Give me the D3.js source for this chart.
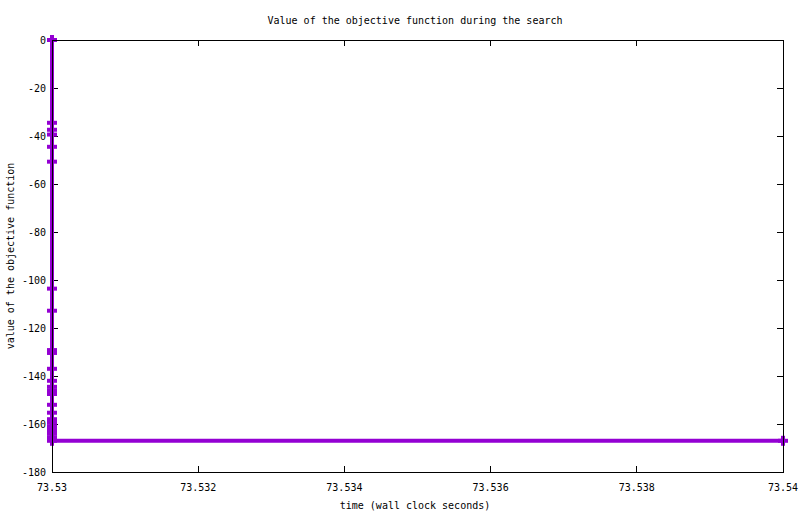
<!DOCTYPE html>
<html>
<head>
<meta charset="utf-8">
<script src="https://cdn.jsdelivr.net/npm/d3@7"></script>
<style>
	body { margin: 0; background: #fff; }
	text { font-family: "DejaVu Sans Mono", monospace; font-size: 10px; fill: #000; }
</style>
</head>
<body>
<svg id="chart" width="800" height="514"></svg>
<script>
// search trace: wall clock time vs objective value
const times = [
	73.53, 73.53, 73.53, 73.53, 73.53, 73.53, 73.53, 73.53, 73.53, 73.53,
	73.53, 73.53, 73.53, 73.53, 73.53, 73.53, 73.53, 73.53, 73.53, 73.53,
	73.53, 73.53, 73.53, 73.53, 73.54,
];
const values = [
	0, -34.5, -37.4, -39.4, -44.5, -50.7, -103.6, -112.8, -129.2, -130.4,
	-137, -142, -144.5, -146, -147.5, -152, -155.3, -158, -159.5, -161,
	-162.5, -164, -165.5, -167, -167,
];
const xTicks = [73.53, 73.532, 73.534, 73.536, 73.538, 73.54];
const yTicks = [0, -20, -40, -60, -80, -100, -120, -140, -160, -180];

const margin = { top: 40, right: 17, bottom: 42, left: 52 };
const width = 800, height = 514;
const color = '#9400d3';

let svg = d3.select('#chart');

let x = d3.scaleLinear().domain([73.53, 73.54]).range([margin.left, width - margin.right]),
	y = d3.scaleLinear().domain([-180, 0]).range([height - margin.bottom, margin.top]);

let points = times.map((t, i) => ({ t: t, v: values[i] }));

// tick marks, inward, mirrored
const tickLen = 6;
let grid = svg.append('g').attr('stroke', '#000').attr('stroke-width', 1).attr('shape-rendering', 'crispEdges');
yTicks.forEach(v => {
	grid.append('line').attr('x1', x.range()[0]).attr('x2', x.range()[0] + tickLen).attr('y1', y(v)).attr('y2', y(v));
	grid.append('line').attr('x1', x.range()[1]).attr('x2', x.range()[1] - tickLen).attr('y1', y(v)).attr('y2', y(v));
});
xTicks.forEach(t => {
	grid.append('line').attr('x1', x(t)).attr('x2', x(t)).attr('y1', y.range()[0]).attr('y2', y.range()[0] - tickLen);
	grid.append('line').attr('x1', x(t)).attr('x2', x(t)).attr('y1', y.range()[1]).attr('y2', y.range()[1] + tickLen);
});

// tick labels
svg.append('g').selectAll('text').data(yTicks).enter().append('text')
	.attr('x', margin.left - 6).attr('y', d => y(d)).attr('dy', '0.35em')
	.attr('text-anchor', 'end').text(d => d);
svg.append('g').selectAll('text').data(xTicks).enter().append('text')
	.attr('x', d => x(d)).attr('y', height - margin.bottom + 15).attr('dy', '0.35em')
	.attr('text-anchor', 'middle').text(d => d3.format('')(+d.toFixed(3)));

// line
let line = d3.line().x(d => x(d.t)).y(d => y(d.v));
svg.append('path').datum(points)
	.attr('d', line).attr('fill', 'none')
	.attr('stroke', color).attr('stroke-width', 4);

// '+' markers
const ps = 5;
let marks = svg.append('g').attr('stroke', color).attr('stroke-width', 4);
points.forEach(d => {
	let px = x(d.t), py = y(d.v);
	marks.append('line').attr('x1', px - ps).attr('x2', px + ps).attr('y1', py).attr('y2', py);
	marks.append('line').attr('x1', px).attr('x2', px).attr('y1', py - ps).attr('y2', py + ps);
});

// border in front
svg.append('rect')
	.attr('x', x.range()[0]).attr('y', y.range()[1])
	.attr('width', x.range()[1] - x.range()[0]).attr('height', y.range()[0] - y.range()[1])
	.attr('fill', 'none').attr('stroke', '#000').attr('stroke-width', 1)
	.attr('shape-rendering', 'crispEdges');

// titles
svg.append('text').attr('x', 415).attr('y', 20).attr('dy', '0.35em').attr('text-anchor', 'middle')
	.text('Value of the objective function during the search');
svg.append('text').attr('x', 415).attr('y', 505).attr('dy', '0.35em').attr('text-anchor', 'middle')
	.text('time (wall clock seconds)');
svg.append('text').attr('transform', 'translate(10,256) rotate(-90)').attr('dy', '0.35em').attr('text-anchor', 'middle')
	.text('value of the objective function');
</script>
</body>
</html>
